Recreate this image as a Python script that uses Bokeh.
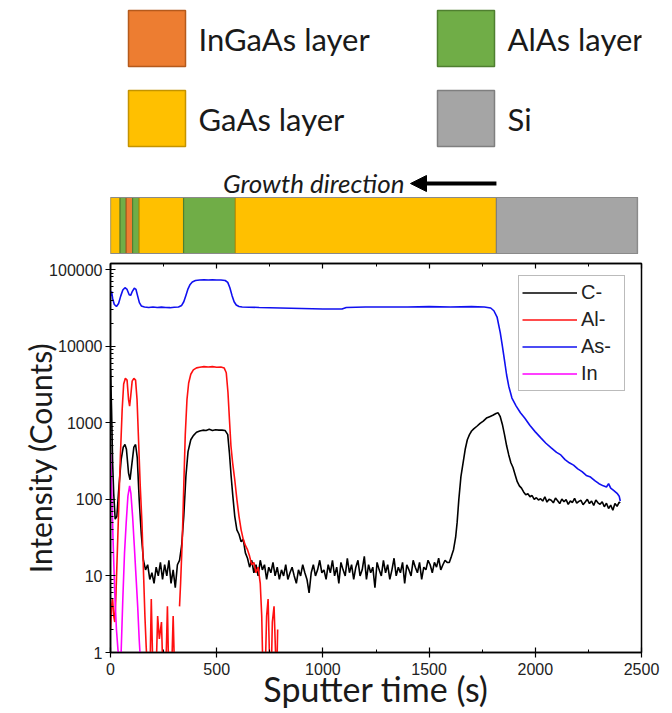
import math
from bokeh.plotting import figure
from bokeh.models import (Range1d, FixedTicker, NumeralTickFormatter, LinearAxis,
                          Legend, LegendItem, Arrow, NormalHead)
from bokeh.layouts import column
from bokeh.embed import file_html
from bokeh.resources import INLINE
from bokeh.core.properties import value

NAN = float("nan")

# ---------------- data ----------------
# Layer stack (sputter-time boundaries, s)
layer_start = [0, 45, 74, 104, 135, 344, 588, 1817]
layer_end = [45, 74, 104, 135, 344, 588, 1817, 2481]
layer_kind = ["GaAs", "AlAs", "InGaAs", "AlAs", "GaAs", "AlAs", "GaAs", "Si"]

legend_names = ["InGaAs layer", "AlAs layer", "GaAs layer", "Si"]
legend_kinds = ["InGaAs", "AlAs", "GaAs", "Si"]

fill_col = {"InGaAs": "#ED7D31", "AlAs": "#70AD47", "GaAs": "#FFC000", "Si": "#A5A5A5"}
edge_col = {"InGaAs": "#B55A1C", "AlAs": "#4F7F30", "GaAs": "#C49300", "Si": "#7F7F7F"}

# C- signal
t_c = ([0, 5, 10, 15, 22, 30, 40, 50, 60, 68, 75, 85, 92, 100, 110, 118, 126, 135, 145, 155,
        165, 175, 185, 195, 205, 215, 225, 235, 245, 255, 265, 275, 285, 295, 305, 315, 325,
        335, 345, 355, 365, 378, 390, 405, 420, 435, 450, 465, 480, 495, 510, 525, 540, 552,
        560, 568, 576, 585, 595, 605, 615, 625, 635]
       + list(range(645, 1586, 10))
       + [1595, 1605, 1615, 1625, 1632, 1640, 1650, 1660, 1670, 1680, 1690, 1700, 1710, 1725,
          1740, 1755, 1770, 1785, 1800, 1815, 1825, 1835, 1845, 1855, 1865, 1875, 1885, 1895,
          1905, 1915, 1925, 1935, 1945, 1955, 1965, 1975, 1985, 1995]
       + list(range(2005, 2396, 10))
       + [2400])
v_c = ([5000, 1500, 300, 120, 55, 60, 150, 330, 480, 520, 450, 220, 180, 280, 480, 520, 350, 100,
        35, 16, 12, 14, 9, 11, 8, 13, 10, 15, 9, 14, 10, 16, 8, 12, 7, 14, 16, 25, 60, 200, 420,
        600, 680, 750, 780, 800, 790, 820, 790, 810, 800, 800, 790, 700, 400, 200, 110, 60, 40,
        35, 28, 30, 20]
       + [17, 13, 16, 11, 14, 10, 16, 12, 14, 9, 13, 11, 15, 10, 13, 9, 12, 10, 14, 9,
          11, 13, 10, 8, 12, 10, 14, 11, 9, 6, 11, 14, 10, 12, 16, 11,
          12, 9, 14, 11, 16, 10, 13, 8, 15, 12, 10, 17, 11, 14, 9, 13, 16, 10, 12, 18,
          9, 14, 11, 13, 7, 15, 12, 10, 16, 11, 14, 9, 12, 17, 10, 13, 11, 15, 8, 14,
          12, 10, 16, 13, 11, 15, 9, 13, 12, 16, 14, 11, 15, 13, 17, 12, 14, 16, 15]
       + [15, 18, 22, 32, 50, 100, 200, 300, 450, 600, 700, 780, 830, 900, 980, 1050, 1150,
          1200, 1250, 1320, 1350, 1200, 950, 700, 500, 380, 300, 260, 210, 170, 150, 140, 125,
          115, 118, 108, 112, 100]
       + [105, 98, 102, 95, 108, 92, 100, 97, 90, 104, 96, 88, 101, 93, 99, 86, 95, 91, 103, 89,
          94, 97, 85, 92, 100, 88, 95, 83, 98, 90, 86, 93, 80, 89, 76, 84, 72, 88, 81, 92]
       + [90])

# Al- signal (NaN = below detection, line break)
t_al = [0, 5, 10, 15, 20, 25, 32, 40, 47, 55, 62, 70, 78, 85, 90, 95, 102, 110, 118, 125, 132,
        140, 148, 155, 162, 168, 175, 185, 192, 200, 212, 222, 230, 240, 248, 258, 268, 275, 285,
        295, 302, 312, 325, 330, 338, 345, 352, 360, 368, 378, 390, 405, 420, 440, 460, 480, 500,
        520, 535, 545, 553, 560, 567, 575, 585, 595, 605, 615, 625, 635, 645, 655, 665, 675, 685,
        695, 705, 712, 718, 726, 735, 742, 748, 755, 762, 770, 777, 782, 787]
v_al = [2, 4, 5, 3, 2.5, 5, 20, 100, 400, 1500, 3200, 3800, 3600, 2000, 1650, 2200, 3500, 3800,
        3600, 2000, 600, 150, 50, 12, 3, 1.2, 0.5, 0.4, 5, 0.5, 0.3, 3, 1.5, 2.5, 0.4, 0.3, 4, 0.4,
        0.3, 3, 0.5, NAN, 4, 8, 30, 150, 700, 2000, 3300, 4300, 4900, 5200, 5300, 5400, 5350,
        5400, 5300, 5350, 5200, 4500, 2500, 1100, 500, 300, 180, 100, 60, 40, 30, 25, 22, 18, 14,
        15, 11, 13, 8, 3, 0.5, 0.3, 3, 5, 1, 0.3, 2.5, 4, 1, 0.4, 2]

# As- signal
t_as = [0, 5, 10, 18, 28, 38, 48, 58, 68, 78, 88, 95, 103, 112, 120, 128, 136, 145, 160, 180,
        200, 220, 240, 260, 280, 300, 320, 335, 345, 355, 365, 375, 385, 400, 420, 440, 460, 480,
        500, 520, 540, 552, 562, 572, 582, 592, 605, 620, 700, 800, 900, 1000, 1090, 1110, 1200,
        1300, 1400, 1500, 1600, 1700, 1760, 1790, 1805, 1820, 1835, 1845, 1855, 1865, 1875, 1890,
        1910, 1930, 1950, 1975, 2000, 2025, 2050, 2075, 2100, 2120, 2140, 2160, 2180, 2200, 2220,
        2240, 2260, 2280, 2300, 2320, 2335, 2345, 2355, 2370, 2385, 2395, 2400]
v_as = [45000, 52000, 42000, 35000, 33000, 36000, 45000, 54000, 58000, 55000, 47000, 46000, 52000,
        57000, 55000, 45000, 37000, 33500, 32500, 32000, 32500, 32000, 32300, 32000, 31800, 32200,
        32500, 34000, 38000, 46000, 56000, 64000, 69000, 72000, 73000, 73500, 73000, 73500, 73000,
        73000, 72000, 68000, 58000, 46000, 38000, 34500, 33000, 32500, 32000, 31500, 31000, 30500,
        30500, 32000, 32500, 32500, 32500, 32800, 32500, 32800, 32500, 31500, 29000, 24000, 15000,
        10000, 6500, 4200, 3000, 2100, 1650, 1350, 1150, 920, 760, 640, 540, 470, 410, 380, 330,
        300, 280, 250, 230, 205, 195, 175, 160, 150, 145, 160, 140, 130, 120, 110, 95]

# In signal
t_in = [0, 5, 12, 20, 28, 35, 40, 45, 50, 58, 66, 74, 82, 90, 96, 104, 112, 120, 128, 135, 142]
v_in = [400, 150, 30, 6, 2, 1.1, 0.8, 0.5, 1, 5, 20, 50, 110, 150, 120, 60, 25, 10, 4, 1.5, 0.7]

x_major = [0, 500, 1000, 1500, 2000, 2500]
x_minor = [250, 750, 1250, 1750, 2250]
y_major = [1, 10, 100, 1000, 10000, 100000]
y_minor = [m * 10 ** e for e in range(0, 5) for m in range(2, 10)]

# ---------------- layout constants ----------------
W = 672
TOP_H = 257
MAIN_H = 456
FRAME_L, FRAME_R = 110, 641
X0, X1 = 0, 2500
spp = (X1 - X0) / (FRAME_R - FRAME_L)


def px2s(px):
    return X0 + (px - FRAME_L) * spp


TICK_FONT = "Liberation Sans"
TITLE_FONT = "Lato"

# ---------------- top figure: legend + layer bar ----------------
top = figure(width=W, height=TOP_H, x_range=Range1d(X0, X1),
             y_range=Range1d(TOP_H, 0), output_backend="svg", toolbar_location=None,
             x_axis_location=None, y_axis_location=None,
             min_border_left=FRAME_L, min_border_right=W - FRAME_R,
             min_border_top=0, min_border_bottom=0)
top.grid.visible = False
top.outline_line_color = None
top.background_fill_color = "white"

sq_left = [128, 437, 128, 437]
sq_top = [10, 10, 90, 90]
for name, kind, lx, ty in zip(legend_names, legend_kinds, sq_left, sq_top):
    top.quad(left=px2s(lx), right=px2s(lx + 57), top=ty, bottom=ty + 56,
             fill_color=fill_col[kind], line_color=edge_col[kind], line_width=1.5)
    top.text(x=[px2s(lx + 70)], y=[ty + 28], text=[name], text_font=value(TITLE_FONT),
             text_font_size="31px", text_baseline="middle", text_align="left",
             text_color="#1a1a1a")

top.quad(left=layer_start, right=layer_end, top=197, bottom=253,
         fill_color=[fill_col[k] for k in layer_kind],
         line_color=[edge_col[k] for k in layer_kind], line_width=1.2)
top.quad(left=[layer_start[0]], right=[layer_end[-1]], top=197, bottom=253,
         fill_color=None, line_color="#8a8a8a", line_width=1.2)

top.text(x=[px2s(404)], y=[182], text=["Growth direction"], text_font=value(TITLE_FONT),
         text_font_size="26px", text_font_style="italic", text_baseline="middle",
         text_align="right", text_color="#1a1a1a")
top.add_layout(Arrow(end=NormalHead(size=16, fill_color="black", line_color="black"),
                     x_start=layer_start[-1], y_start=183, x_end=px2s(410), y_end=183,
                     line_width=4, line_color="black"))

# ---------------- main figure ----------------
p = figure(width=W, height=MAIN_H, x_range=Range1d(X0, X1), y_range=Range1d(1, 1.2e5),
           y_axis_type="log", output_backend="svg", toolbar_location=None,
           min_border_left=FRAME_L, min_border_right=W - FRAME_R, min_border_top=6,
           min_border_bottom=61)
p.grid.visible = False
p.outline_line_color = "black"
p.outline_line_width = 1.5

r_c = p.line(t_c, v_c, line_color="black", line_width=1.6)
r_al = p.line(t_al, v_al, line_color="#FF1010", line_width=1.6)
r_as = p.line(t_as, v_as, line_color="#1010F0", line_width=1.6)
r_in = p.line(t_in, v_in, line_color="#FF00FF", line_width=1.6)

xa = p.xaxis[0]
xa.ticker = FixedTicker(ticks=x_major, minor_ticks=x_minor)
xa.axis_label = "Sputter time (s)"
ya = p.yaxis[0]
ya.ticker = FixedTicker(ticks=y_major, minor_ticks=y_minor)
ya.formatter = NumeralTickFormatter(format="0")
ya.axis_label = "Intensity (Counts)"
for ax in (xa, ya):
    ax.axis_line_color = "black"
    ax.axis_line_width = 1.5
    ax.major_tick_line_color = "black"
    ax.minor_tick_line_color = "black"
    ax.major_tick_line_width = 1.2
    ax.minor_tick_line_width = 1
    ax.major_tick_in = 5
    ax.major_tick_out = 5
    ax.minor_tick_in = 3
    ax.minor_tick_out = 0
    ax.major_label_text_font = TICK_FONT
    ax.major_label_text_font_size = "16px"
    ax.major_label_text_color = "#222222"
    ax.axis_label_text_font = TITLE_FONT
    ax.axis_label_text_font_style = "normal"
    ax.axis_label_text_color = "#1a1a1a"
xa.axis_label_text_font_size = "34px"
ya.axis_label_text_font_size = "30px"
xa.major_label_standoff = 5
xa.axis_label_standoff = -10
ya.major_label_standoff = 3
ya.axis_label_standoff = -12

top_ax = LinearAxis(ticker=FixedTicker(ticks=x_major, minor_ticks=x_minor),
                    major_tick_in=5, major_tick_out=0, minor_tick_in=3, minor_tick_out=0,
                    major_label_overrides={t: "" for t in x_major},
                    major_label_text_font_size="10px", major_label_standoff=0,
                    axis_line_color="black", axis_line_width=1.5,
                    major_tick_line_width=1.2)
p.add_layout(top_ax, "above")

legend = Legend(items=[LegendItem(label="C-", renderers=[r_c]),
                       LegendItem(label="Al-", renderers=[r_al]),
                       LegendItem(label="As-", renderers=[r_as]),
                       LegendItem(label="In", renderers=[r_in])],
                location=(408, 261), orientation="vertical",
                label_text_font=TICK_FONT, label_text_font_size="20px",
                label_text_color="#222222",
                glyph_width=55, glyph_height=27, label_height=27, label_width=40,
                label_standoff=4, spacing=0, padding=3, margin=0,
                border_line_color="#777777", border_line_width=1.2,
                background_fill_alpha=1.0)
p.add_layout(legend, "center")

layout = column(top, p, spacing=0)
open("out.html", "w").write(file_html(layout, INLINE))
